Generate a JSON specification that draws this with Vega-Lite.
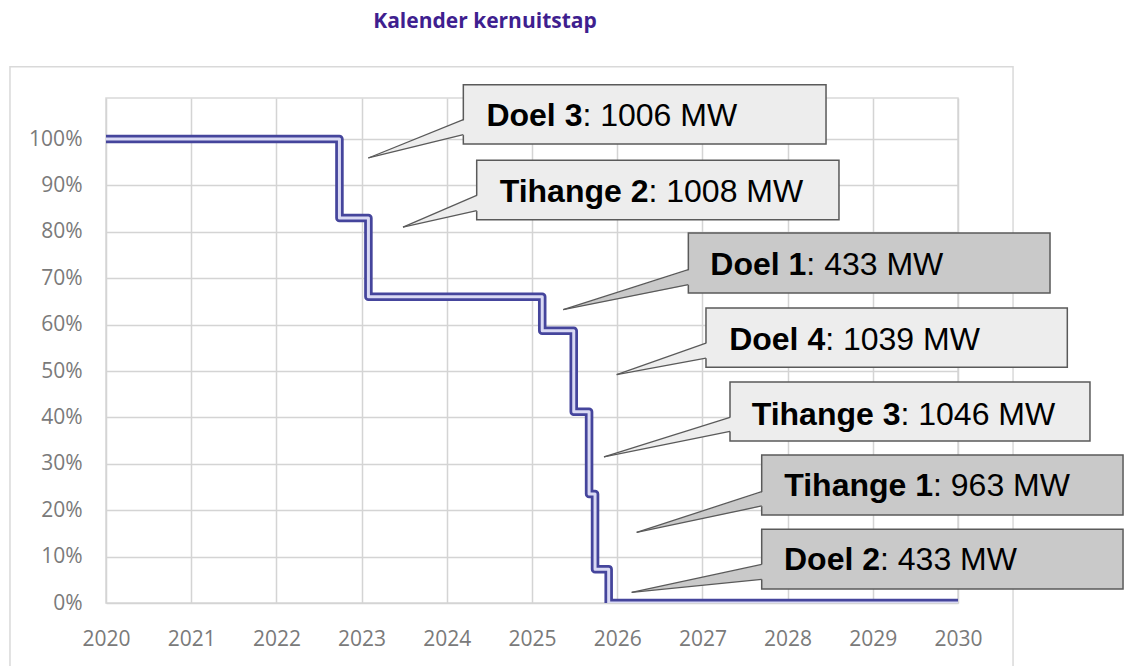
{
  "$schema": "https://vega.github.io/schema/vega-lite/v6.json",
  "autosize": {"type": "none"},
  "padding": {"left": 106, "top": 98, "right": 168, "bottom": 63},
  "width": 852,
  "height": 505,
  "background": "white",
  "title": {
    "text": "Kalender kernuitstap",
    "font": "Open Sans",
    "fontWeight": "bold",
    "fontSize": 21,
    "color": "#3F1F8F",
    "anchor": "middle",
    "frame": "group",
    "dx": -47,
    "offset": 34
  },
  "config": {
    "view": {"stroke": "#D9D9D9", "strokeWidth": 1.5},
    "axis": {
      "labelFont": "Open Sans",
      "labelFontSize": 21,
      "labelColor": "#7A7A7A",
      "gridColor": "#D4D4D4",
      "gridWidth": 1.5,
      "ticks": false,
      "domain": false,
      "labelFlush": false,
      "title": null
    }
  },
  "datasets": {
    "frame": [{"fx1": 2018.873, "fx2": 2030.646, "fy1": 115.58, "fy2": -16}],
    "step": [
      {"year": 2020, "pct": 100},
      {"year": 2022.74, "pct": 83.0},
      {"year": 2023.08, "pct": 66.0},
      {"year": 2025.12, "pct": 58.7},
      {"year": 2025.49, "pct": 41.2},
      {"year": 2025.67, "pct": 23.5},
      {"year": 2025.74, "pct": 7.3},
      {"year": 2025.9, "pct": 0},
      {"year": 2030, "pct": 0}
    ],
    "callouts": [
      {"name": "Doel 3", "mw": 1006, "shade": "light", "x1": 2024.194, "x2": 2028.451, "ytop": 111.70, "ybot": 98.92, "tipx": 2023.079, "tipy": 95.91, "basex": 2024.194, "basetop": 104.16, "basebot": 100.93, "bx": 2025.592, "ty": 102.74},
      {"name": "Tihange 2", "mw": 1008, "shade": "light", "x1": 2024.351, "x2": 2028.603, "ytop": 95.41, "ybot": 82.61, "tipx": 2023.486, "tipy": 81.03, "basex": 2024.351, "basetop": 87.87, "basebot": 84.55, "bx": 2026.367, "ty": 86.42},
      {"name": "Doel 1", "mw": 433, "shade": "dark", "x1": 2026.835, "x2": 2031.080, "ytop": 79.74, "ybot": 66.81, "tipx": 2025.367, "tipy": 63.21, "basex": 2026.835, "basetop": 71.83, "basebot": 68.60, "bx": 2028.220, "ty": 70.63},
      {"name": "Doel 4", "mw": 1039, "shade": "light", "x1": 2027.042, "x2": 2031.283, "ytop": 63.58, "ybot": 50.80, "tipx": 2025.994, "tipy": 49.20, "basex": 2027.042, "basetop": 56.03, "basebot": 52.80, "bx": 2028.441, "ty": 54.59},
      {"name": "Tihange 3", "mw": 1046, "shade": "light", "x1": 2027.324, "x2": 2031.549, "ytop": 47.63, "ybot": 34.91, "tipx": 2025.845, "tipy": 31.47, "basex": 2027.324, "basetop": 40.02, "basebot": 37.00, "bx": 2029.325, "ty": 38.43},
      {"name": "Tihange 1", "mw": 963, "shade": "dark", "x1": 2027.696, "x2": 2031.937, "ytop": 31.90, "ybot": 18.97, "tipx": 2026.229, "tipy": 15.24, "basex": 2027.696, "basetop": 23.99, "basebot": 20.91, "bx": 2029.707, "ty": 23.06},
      {"name": "Doel 2", "mw": 433, "shade": "dark", "x1": 2027.696, "x2": 2031.937, "ytop": 15.88, "ybot": 3.02, "tipx": 2026.170, "tipy": 2.31, "basex": 2027.696, "basetop": 8.34, "basebot": 5.11, "bx": 2029.085, "ty": 7.11}
    ],
    "wedges": [
      {"name": "Doel 3", "shade": "light", "wx": 2023.079, "wa": 95.91, "wb": 95.91},
      {"name": "Doel 3", "shade": "light", "wx": 2024.214, "wa": 104.16, "wb": 100.93},
      {"name": "Tihange 2", "shade": "light", "wx": 2023.486, "wa": 81.03, "wb": 81.03},
      {"name": "Tihange 2", "shade": "light", "wx": 2024.371, "wa": 87.87, "wb": 84.55},
      {"name": "Doel 1", "shade": "dark", "wx": 2025.367, "wa": 63.21, "wb": 63.21},
      {"name": "Doel 1", "shade": "dark", "wx": 2026.855, "wa": 71.83, "wb": 68.60},
      {"name": "Doel 4", "shade": "light", "wx": 2025.994, "wa": 49.20, "wb": 49.20},
      {"name": "Doel 4", "shade": "light", "wx": 2027.062, "wa": 56.03, "wb": 52.80},
      {"name": "Tihange 3", "shade": "light", "wx": 2025.845, "wa": 31.47, "wb": 31.47},
      {"name": "Tihange 3", "shade": "light", "wx": 2027.344, "wa": 40.02, "wb": 37.00},
      {"name": "Tihange 1", "shade": "dark", "wx": 2026.229, "wa": 15.24, "wb": 15.24},
      {"name": "Tihange 1", "shade": "dark", "wx": 2027.716, "wa": 23.99, "wb": 20.91},
      {"name": "Doel 2", "shade": "dark", "wx": 2026.170, "wa": 2.31, "wb": 2.31},
      {"name": "Doel 2", "shade": "dark", "wx": 2027.716, "wa": 8.34, "wb": 5.11}
    ]
  },
  "layer": [
    {
      "data": {"name": "frame"},
      "mark": {"type": "rect", "fill": null, "fillOpacity": 0, "stroke": "#D9D9D9", "strokeWidth": 1.5},
      "encoding": {
        "x": {"field": "fx1", "type": "quantitative", "scale": {"domain": [2020, 2030], "nice": false, "zero": false},
              "axis": {"values": [2020, 2021, 2022, 2023, 2024, 2025, 2026, 2027, 2028, 2029, 2030], "format": "d", "labelPadding": 25, "grid": true}},
        "x2": {"field": "fx2"},
        "y": {"field": "fy1", "type": "quantitative", "scale": {"domain": [0, 108.84], "nice": false, "zero": false},
              "axis": {"values": [0, 10, 20, 30, 40, 50, 60, 70, 80, 90, 100], "labelExpr": "datum.value + '%'", "labelPadding": 24, "grid": true}},
        "y2": {"field": "fy2"}
      }
    },
    {
      "data": {"name": "step"},
      "mark": {"type": "line", "interpolate": "step-after", "stroke": "#45459C", "strokeWidth": 8.5, "strokeJoin": "round", "clip": true},
      "encoding": {
        "x": {"field": "year", "type": "quantitative", "scale": {"domain": [2020, 2030], "nice": false, "zero": false}},
        "y": {"field": "pct", "type": "quantitative", "scale": {"domain": [0, 108.84], "nice": false, "zero": false}}
      }
    },
    {
      "data": {"name": "step"},
      "mark": {"type": "line", "interpolate": "step-after", "stroke": "#DADAF4", "strokeWidth": 3, "strokeJoin": "round", "clip": true},
      "encoding": {
        "x": {"field": "year", "type": "quantitative", "scale": {"domain": [2020, 2030], "nice": false, "zero": false}},
        "y": {"field": "pct", "type": "quantitative", "scale": {"domain": [0, 108.84], "nice": false, "zero": false}}
      }
    },
    {
      "data": {"name": "callouts"},
      "mark": {"type": "rect", "stroke": "#5A5A5A", "strokeWidth": 1.5},
      "encoding": {
        "x": {"field": "x1", "type": "quantitative", "scale": {"domain": [2020, 2030], "nice": false, "zero": false}},
        "x2": {"field": "x2"},
        "y": {"field": "ytop", "type": "quantitative", "scale": {"domain": [0, 108.84], "nice": false, "zero": false}},
        "y2": {"field": "ybot"},
        "fill": {"field": "shade", "type": "nominal", "scale": {"domain": ["light", "dark"], "range": ["#EDEDED", "#C9C9C9"]}, "legend": null}
      }
    },
    {
      "data": {"name": "wedges"},
      "mark": {"type": "area", "orient": "vertical", "opacity": 1},
      "encoding": {
        "x": {"field": "wx", "type": "quantitative", "scale": {"domain": [2020, 2030], "nice": false, "zero": false}},
        "y": {"field": "wa", "type": "quantitative", "scale": {"domain": [0, 108.84], "nice": false, "zero": false}},
        "y2": {"field": "wb"},
        "detail": {"field": "name"},
        "fill": {"field": "shade", "type": "nominal", "scale": {"domain": ["light", "dark"], "range": ["#EDEDED", "#C9C9C9"]}, "legend": null}
      }
    },
    {
      "data": {"name": "callouts"},
      "mark": {"type": "rule", "stroke": "#5A5A5A", "strokeWidth": 1.3},
      "encoding": {
        "x": {"field": "tipx", "type": "quantitative", "scale": {"domain": [2020, 2030], "nice": false, "zero": false}},
        "y": {"field": "tipy", "type": "quantitative", "scale": {"domain": [0, 108.84], "nice": false, "zero": false}},
        "x2": {"field": "basex"},
        "y2": {"field": "basetop"}
      }
    },
    {
      "data": {"name": "callouts"},
      "mark": {"type": "rule", "stroke": "#5A5A5A", "strokeWidth": 1.3},
      "encoding": {
        "x": {"field": "tipx", "type": "quantitative", "scale": {"domain": [2020, 2030], "nice": false, "zero": false}},
        "y": {"field": "tipy", "type": "quantitative", "scale": {"domain": [0, 108.84], "nice": false, "zero": false}},
        "x2": {"field": "basex"},
        "y2": {"field": "basebot"}
      }
    },
    {
      "data": {"name": "callouts"},
      "mark": {"type": "text", "font": "Liberation Sans", "fontSize": 32, "fontWeight": "bold", "align": "right", "baseline": "alphabetic", "color": "#000000"},
      "encoding": {
        "x": {"field": "bx", "type": "quantitative", "scale": {"domain": [2020, 2030], "nice": false, "zero": false}},
        "y": {"field": "ty", "type": "quantitative", "scale": {"domain": [0, 108.84], "nice": false, "zero": false}},
        "text": {"field": "name"}
      }
    },
    {
      "data": {"name": "callouts"},
      "transform": [{"calculate": "': ' + datum.mw + ' MW'", "as": "rest"}],
      "mark": {"type": "text", "font": "Liberation Sans", "fontSize": 32, "fontWeight": "normal", "align": "left", "baseline": "alphabetic", "color": "#000000"},
      "encoding": {
        "x": {"field": "bx", "type": "quantitative", "scale": {"domain": [2020, 2030], "nice": false, "zero": false}},
        "y": {"field": "ty", "type": "quantitative", "scale": {"domain": [0, 108.84], "nice": false, "zero": false}},
        "text": {"field": "rest"}
      }
    }
  ]
}
